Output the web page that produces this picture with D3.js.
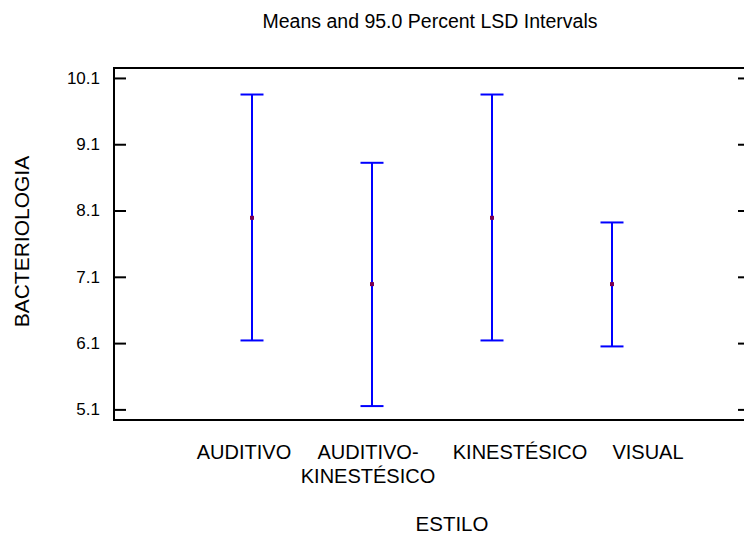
<!DOCTYPE html>
<html>
<head>
<meta charset="utf-8">
<script src="https://cdn.jsdelivr.net/npm/d3@7"></script>
<style>
  body { margin: 0; background: #fff; }
  text { font-family: "Liberation Sans", Arial, sans-serif; fill: #000; }
</style>
</head>
<body>
<svg id="chart" width="744" height="535"></svg>
<script>
// Group labels (line breaks split with "\n"), means and LSD interval limits
const estilos = ["AUDITIVO", "AUDITIVO-\nKINESTÉSICO", "KINESTÉSICO", "VISUAL"];
const means = [7.99, 6.99, 7.99, 6.99];
const lower = [6.14, 5.15, 6.14, 6.05];
const upper = [9.85, 8.82, 9.85, 7.92];
const yTicks = [5.1, 6.1, 7.1, 8.1, 9.1, 10.1];

const svg = d3.select("#chart");
const plot = { left: 114, right: 750, top: 68, bottom: 420 };

const x = d3.scalePoint().domain(estilos).range([plot.left, plot.right]).padding(1.15);
const y = d3.scaleLinear().domain([4.94, 10.25]).range([plot.bottom, plot.top]);

// Frame
const frame = svg.append("g").attr("stroke", "#000").attr("stroke-width", 2).attr("fill", "none");
frame.append("path")
  .attr("d", `M${plot.left},${plot.top}H${plot.right}V${plot.bottom}H${plot.left}Z`);

// Left axis: inward ticks with labels
const leftAxis = d3.axisLeft(y).tickValues(yTicks).tickSize(-12).tickPadding(14).tickFormat(d3.format(".1f"));
const gl = svg.append("g").attr("transform", `translate(${plot.left},0)`).call(leftAxis);
gl.select(".domain").remove();
gl.selectAll(".tick line").attr("stroke", "#000").attr("stroke-width", 2);
gl.selectAll(".tick text").attr("font-size", 17).attr("font-family", '"Liberation Sans", Arial, sans-serif');

// Right axis: inward ticks only
const rightAxis = d3.axisRight(y).tickValues(yTicks).tickSize(-12).tickFormat("");
const gr = svg.append("g").attr("transform", `translate(${plot.right},0)`).call(rightAxis);
gr.select(".domain").remove();
gr.selectAll(".tick line").attr("stroke", "#000").attr("stroke-width", 2);

// Category labels under the frame
const labelShift = [-8, -4, 28, 36];
const gx = svg.append("g");
estilos.forEach((name, i) => {
  const t = gx.append("text")
    .attr("text-anchor", "middle")
    .attr("font-size", 20);
  name.split("\n").forEach((line, k) => {
    t.append("tspan")
      .attr("x", x(name) + labelShift[i])
      .attr("y", 459 + k * 23.5)
      .text(line);
  });
});

// Interval bars
const halfCap = 11.5;
const bars = svg.append("g").attr("stroke", "#0000ff").attr("stroke-width", 2).attr("fill", "none");
estilos.forEach((name, i) => {
  const cx = x(name);
  bars.append("line").attr("x1", cx).attr("x2", cx).attr("y1", y(upper[i])).attr("y2", y(lower[i]));
  bars.append("line").attr("x1", cx - halfCap).attr("x2", cx + halfCap).attr("y1", y(upper[i])).attr("y2", y(upper[i]));
  bars.append("line").attr("x1", cx - halfCap).attr("x2", cx + halfCap).attr("y1", y(lower[i])).attr("y2", y(lower[i]));
});

// Mean markers
svg.append("g").selectAll("rect").data(estilos).join("rect")
  .attr("x", d => x(d) - 2)
  .attr("y", (d, i) => y(means[i]) - 2)
  .attr("width", 4).attr("height", 4)
  .attr("fill", "#7a0050");

// Titles
svg.append("text").attr("x", 430).attr("y", 28).attr("text-anchor", "middle")
  .attr("font-size", 19.5).text("Means and 95.0 Percent LSD Intervals");
svg.append("text").attr("x", 452).attr("y", 531).attr("text-anchor", "middle")
  .attr("font-size", 20.5).text("ESTILO");
svg.append("text").attr("transform", "translate(29,241.6) rotate(-90)").attr("text-anchor", "middle")
  .attr("font-size", 21).text("BACTERIOLOGIA");
</script>
</body>
</html>
